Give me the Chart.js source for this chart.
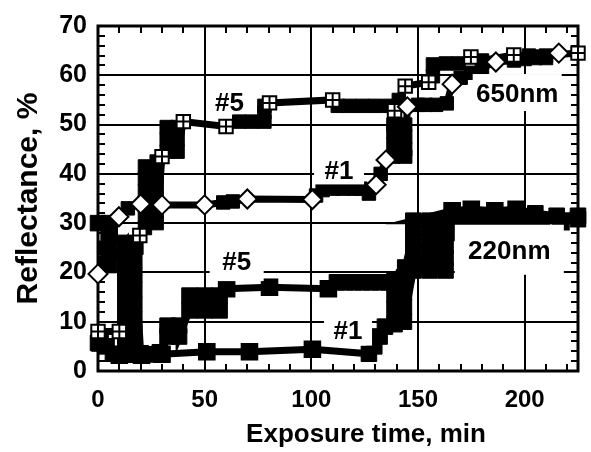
<!DOCTYPE html>
<html>
<head>
<meta charset="utf-8">
<script src="https://cdn.jsdelivr.net/npm/chart.js@4.4.1/dist/chart.umd.min.js"></script>
<style>
  html, body { margin: 0; padding: 0; background: #fff; }
  canvas { display: block; }
</style>
</head>
<body>
<canvas id="chart" width="591" height="452"></canvas>
<script>
// ===== DATA =====
// 650 nm, sample #5 (open squares with cross) - noisy readings make the black blocks
const time650n5 = [0, 10, 14, 15, 16, 18, 19.6,
  22, 22, 22, 22, 22, 22, 27.5, 27.5, 27.5, 27.5, 27.5, 27.5, 30,
  32.2, 32.2, 32.2, 37.3, 37.3, 37.3, 40, 60,
  66.2, 72, 78, 78, 78, 80.4, 110,
  112.4, 118, 124, 130, 136.5, 139, 141, 144, 155,
  157, 157, 163, 169, 174.8, 180, 194.9,
  202, 206, 210, 225];
const refl650n5 = [8, 8, 12, 17, 22, 25, 27.5,
  29, 31.5, 34, 36.5, 39, 41.5, 42.5, 40, 37.5, 35, 32.5, 30, 43.5,
  44.5, 47, 49.5, 49.5, 47, 44.5, 50.6, 49.6,
  50.6, 50.6, 50.6, 52.5, 53.8, 54.4, 55,
  53.8, 53.8, 53.8, 53.8, 53.8, 52.8, 55, 57.8, 58.6,
  59.8, 62.2, 62.4, 62.4, 63.7, 63, 64.1,
  64, 63.8, 64, 64.5];
const markTime650n5 = [0, 10, 19.6, 30, 40, 60, 80.4, 110, 139, 144, 155, 174.8, 194.9, 225];
const markRefl650n5 = [8, 8, 27.5, 43.5, 50.6, 49.6, 54.4, 55, 52.8, 57.8, 58.6, 63.7, 64.1, 64.5];

// 650 nm, sample #1 (open diamonds)
const time650n1 = [0, 3, 3, 6, 6, 9.8, 14, 20, 30, 50, 58.7, 63.2, 70, 100.5, 102.2, 105.3,
  110, 115, 120, 123, 127, 130.4, 132.5, 135,
  138.5, 138.5, 138.5, 138.5, 144, 144, 144, 144, 145,
  150, 153.5, 158.5, 163.5, 166, 170, 175, 180, 186.5, 195, 200, 205, 210, 216];
const refl650n1 = [19.7, 22, 25, 27.5, 30, 31.3, 33, 33.9, 33.7, 33.7, 34.2, 34.4, 34.9, 34.8, 35.6, 36.7,
  37, 37, 37, 37, 36, 37.8, 40, 42.8,
  43.5, 46, 48.5, 50, 50, 47.5, 45, 43.5, 53.6,
  54, 54, 54, 54.3, 58.2, 59.5, 60.5, 61.5, 62.7, 63, 63.3, 63.5, 63.5, 64.5];
const markTime650n1 = [0, 9.8, 20, 30, 50, 70, 100.5, 130.4, 135, 145, 166, 186.5, 216];
const markRefl650n1 = [19.7, 31.3, 33.9, 33.7, 33.7, 34.9, 34.8, 37.8, 42.8, 53.6, 58.2, 62.7, 64.5];

// 220 nm, sample #5 (filled squares)
const time220n5 = [0, 5, 5, 5, 5,
  12.8, 12.8, 12.8, 12.8, 12.8, 12.8, 12.8, 12.8, 17, 17, 17, 17, 17, 17, 17, 17,
  20, 25, 29, 32.6, 32.6, 38, 38, 42.9, 42.9, 50, 50, 57, 57,
  60.3, 80.4, 108, 112, 116, 120, 124, 128, 132, 136, 140, 144,
  147.8, 155.4, 162.9, 162.9, 155.4, 147.8,
  166, 175, 186, 196, 205, 215, 225];
const refl220n5 = [30, 30, 27, 24, 21.5,
  26, 23, 20, 17, 14, 11, 8, 5, 4.5, 7.5, 10.5, 13.5, 16.5, 19.5, 22.5, 25.5,
  3.6, 3.4, 3.8, 7, 9.2, 9.2, 7, 12.3, 15.3, 15.3, 12.3, 12.3, 15.3,
  16.7, 17, 16.7, 18, 18, 18, 18, 18, 18, 18, 18.3, 21,
  28, 28, 28, 30.5, 30.5, 30.5,
  32.5, 32.8, 32.5, 32.8, 32, 31.5, 31.5];
const markTime220n5 = [60.3, 80.4, 108, 166, 175, 186, 196];
const markRefl220n5 = [16.7, 17, 16.7, 32.5, 32.8, 32.5, 32.8];

// 220 nm, sample #1 (filled squares)
const time220n1 = [0, 1, 4, 7, 10, 15, 20.4, 25, 30, 51, 71, 100.5,
  127, 129.5, 132, 134.5, 139, 139, 139, 139, 143.4, 143.4, 143.4, 143.4,
  147.8, 155.4, 162.9, 162.9, 155.4, 147.8, 147.8, 155.4, 162.9, 164, 166,
  172, 178, 184, 190, 196, 202, 208, 217, 225];
const refl220n1 = [5.7, 5.7, 5, 3.5, 3.2, 3.3, 3.2, 3.4, 3.4, 3.9, 3.9, 4.4,
  3.5, 5, 7, 9, 9.5, 12.5, 15.5, 18.5, 19, 16, 13, 10,
  20.4, 20.4, 20.4, 22.9, 22.9, 22.9, 25.4, 25.4, 25.4, 28, 30.5,
  30.8, 30.8, 30.8, 30.8, 30.6, 30.8, 30.6, 30.3, 30.8];
const markTime220n1 = [1, 10, 20.4, 30, 51, 71, 100.5, 217];
const markRefl220n1 = [5.7, 3.2, 3.2, 3.4, 3.9, 3.9, 4.4, 30.3];

// axes
const xTicks = [0, 50, 100, 150, 200];
const yTicks = [0, 10, 20, 30, 40, 50, 60, 70];
const xTitle = 'Exposure time, min';
const yTitle = 'Reflectance, %';

// curve labels (centre in data units)
const curveLabels = [
  { text: '#5', x: 61.6, y: 54.7, box: null },
  { text: '#1', x: 113, y: 40.8, box: [25, 14.5] },
  { text: '650nm', x: 196.5, y: 56.5, box: [44.5, 18.5] },
  { text: '#5', x: 65, y: 22.4, box: [27, 20.5] },
  { text: '#1', x: 117.2, y: 8.4, box: [24, 16] },
  { text: '220nm', x: 192.8, y: 24.6, box: [54.5, 25] }
];

// ===== HELPERS =====
const FONT = "'Liberation Sans', Arial, sans-serif";
const pts = (xs, ys) => xs.map((x, i) => ({ x, y: ys[i] }));

// dense trace: thick black line + filled squares (hidden where an open marker sits)
const trace = (xs, ys, r, hideAt, order) => {
  const hide = new Set(hideAt);
  return {
    data: pts(xs, ys),
    borderColor: '#000',
    backgroundColor: '#000',
    borderWidth: 7,
    pointStyle: 'rect',
    pointRadius: c => (c.raw && hide.has(c.raw.x) ? 0 : r),
    pointBackgroundColor: '#000',
    pointBorderColor: '#000',
    pointBorderWidth: 1,
    tension: 0,
    clip: false,
    order
  };
};

const marks = (xs, ys, style, r, fill, order) => ({
  data: pts(xs, ys),
  showLine: false,
  pointStyle: style,
  pointRadius: r,
  pointBackgroundColor: fill,
  pointBorderColor: '#000',
  pointBorderWidth: 2,
  clip: false,
  order
});

// ===== PLUGIN: frame, minor ticks, labels, axis titles =====
const decor = {
  id: 'decor',
  beforeDatasetsDraw(chart) {
    const { ctx, chartArea: a, scales: { x, y } } = chart;
    ctx.save();
    ctx.strokeStyle = '#000';
    ctx.lineWidth = 2;
    ctx.beginPath();
    for (let v = 10; v < 225; v += 10) {
      if (v % 50 === 0) continue;
      const px = Math.round(x.getPixelForValue(v));
      ctx.moveTo(px, a.bottom); ctx.lineTo(px, a.bottom - 7);
      ctx.moveTo(px, a.top); ctx.lineTo(px, a.top + 7);
    }
    for (let v = 2; v < 70; v += 2) {
      if (v % 10 === 0) continue;
      const py = Math.round(y.getPixelForValue(v));
      ctx.moveTo(a.left, py); ctx.lineTo(a.left + 7, py);
      ctx.moveTo(a.right, py); ctx.lineTo(a.right - 7, py);
    }
    ctx.stroke();
    ctx.lineWidth = 3;
    ctx.strokeRect(a.left, a.top, a.right - a.left, a.bottom - a.top);
    ctx.restore();
  },
  afterDatasetsDraw(chart) {
    const { ctx, chartArea: a, scales: { x, y } } = chart;
    ctx.save();
    ctx.font = `bold 26px ${FONT}`;
    ctx.textAlign = 'center';
    ctx.textBaseline = 'alphabetic';
    curveLabels.forEach(l => {
      const cx = x.getPixelForValue(l.x);
      const cy = y.getPixelForValue(l.y);
      if (l.box) {
        ctx.fillStyle = '#fff';
        ctx.fillRect(cx - l.box[0], cy - l.box[1], 2 * l.box[0], 2 * l.box[1]);
      }
      ctx.fillStyle = '#000';
      ctx.fillText(l.text, cx, cy + 9.3);
    });

    // axis titles
    ctx.fillStyle = '#000';
    ctx.font = `bold 26px ${FONT}`;
    ctx.fillText(xTitle, 366, 442);
    ctx.translate(36.5, (a.top + a.bottom) / 2);
    ctx.rotate(-Math.PI / 2);
    ctx.font = `bold 30px ${FONT}`;
    ctx.fillText(yTitle, 0, 0);
    ctx.restore();
  }
};

// ===== CHART =====
const chart = new Chart(document.getElementById('chart'), {
  type: 'line',
  data: {
    datasets: [
      marks(markTime650n1, markRefl650n1, 'rectRot', 9.5, '#fff', 0),
      marks(markTime650n5, markRefl650n5, 'cross', 6.5, '#fff', 1),
      marks(markTime650n5, markRefl650n5, 'rect', 9.5, '#fff', 2),
      marks(markTime220n5, markRefl220n5, 'rect', 11, '#000', 3),
      marks(markTime220n1, markRefl220n1, 'rect', 11, '#000', 3),
      trace(time650n1, refl650n1, 9.5, markTime650n1, 4),
      trace(time650n5, refl650n5, 9.5, markTime650n5, 4),
      trace(time220n5, refl220n5, 11, [], 5),
      trace(time220n1, refl220n1, 11, [], 5)
    ]
  },
  options: {
    responsive: false,
    animation: false,
    events: [],
    layout: { padding: { top: 19, right: 11, left: 0, bottom: 0 } },
    plugins: { legend: { display: false }, tooltip: { enabled: false } },
    scales: {
      x: {
        type: 'linear',
        min: 0,
        max: 225,
        afterFit: s => { s.height = 81; },
        afterBuildTicks: s => { s.ticks = xTicks.map(v => ({ value: v })); },
        grid: { color: '#000', lineWidth: 2, drawTicks: false },
        border: { display: false },
        ticks: { color: '#000', padding: 15, font: { family: FONT, size: 24, weight: 'bold' } }
      },
      y: {
        type: 'linear',
        min: 0,
        max: 70,
        afterFit: s => { s.width = 98; },
        afterBuildTicks: s => { s.ticks = yTicks.map(v => ({ value: v })); },
        grid: { color: '#000', lineWidth: 2, drawTicks: false },
        border: { display: false },
        ticks: { color: '#000', padding: 11, font: { family: FONT, size: 25, weight: 'bold' } }
      }
    }
  },
  plugins: [decor]
});
</script>
</body>
</html>
